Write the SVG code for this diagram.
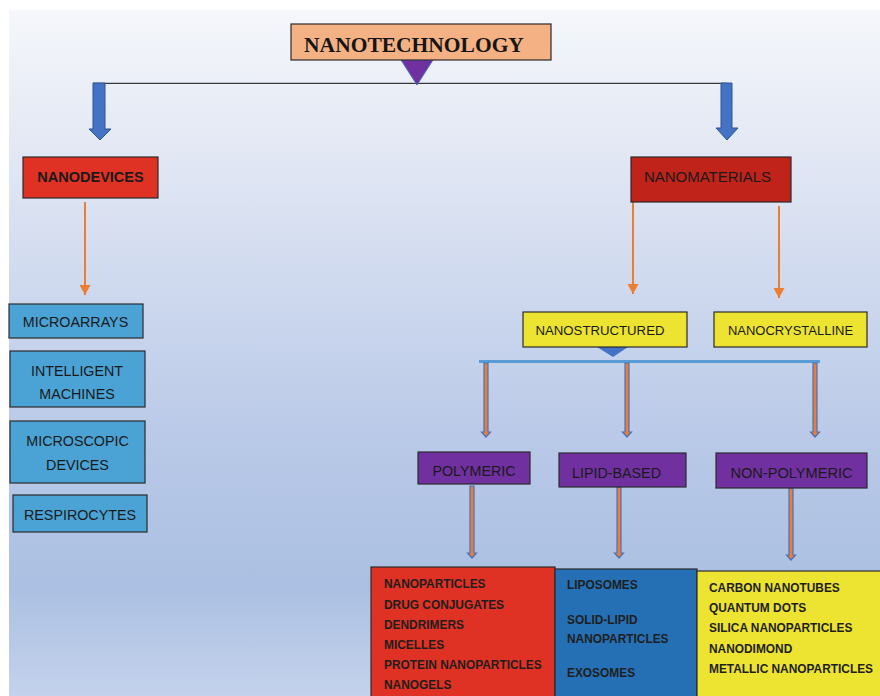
<svg xmlns="http://www.w3.org/2000/svg" width="880" height="696" viewBox="0 0 880 696">
<defs>
<linearGradient id="bg" x1="0" y1="10" x2="0" y2="696" gradientUnits="userSpaceOnUse">
<stop offset="0" stop-color="#f5f7fb"/>
<stop offset="0.2" stop-color="#e3e8f4"/>
<stop offset="0.42" stop-color="#cdd8ee"/>
<stop offset="0.64" stop-color="#b8c8e7"/>
<stop offset="0.84" stop-color="#abc0e2"/>
<stop offset="1" stop-color="#c4d2ec"/>
</linearGradient>
<marker id="oa" markerUnits="userSpaceOnUse" markerWidth="11" markerHeight="11" refX="10" refY="5.5" orient="auto">
<path d="M0,0 L10,5.5 L0,11 Z" fill="#ed7d31"/>
</marker>
<style>
.box{stroke:#2b2b2b;stroke-width:1.2}
.lbl{font-family:"Liberation Sans",Arial,sans-serif;fill:#1a1a1a;text-anchor:middle}
.lst{font-family:"Liberation Sans",Arial,sans-serif;font-weight:bold;font-size:11.9px;fill:#1e1e1e}
.bar{fill:#4472c4;stroke:#2f5597;stroke-width:1}
.oar{stroke:#ed7d31;stroke-width:2;fill:none}
.sar{fill:#ed7d31;stroke:#4472c4;stroke-width:1.2}
</style>
</defs>
<rect x="0" y="0" width="880" height="696" fill="#ffffff"/>
<rect x="9" y="10" width="871" height="686" fill="url(#bg)"/>

<g id="connectors">
<line x1="93" y1="83.3" x2="727" y2="83.3" stroke="#3a3a3a" stroke-width="1.3"/>
<polygon class="bar" points="93,83 105,83 105,129 111,129 100,140 89,129 93,129"/>
<polygon class="bar" points="721,83 732,83 732,128 738,128 727,140 716,128 721,128"/>
<polygon points="401,60 433,60 417,85" fill="#7030a0" stroke="#4472c4" stroke-width="1"/>
<line class="oar" x1="85" y1="202" x2="85" y2="295" marker-end="url(#oa)"/>
<line class="oar" x1="633" y1="202" x2="633" y2="294" marker-end="url(#oa)"/>
<line class="oar" x1="779" y1="206" x2="779" y2="298" marker-end="url(#oa)"/>
<polygon points="597,347 628,347 613,357" fill="#4472c4"/>
<line x1="479" y1="361.5" x2="820" y2="361.5" stroke="#5b9bd5" stroke-width="3"/>
<polygon class="sar" points="484,363 488,363 488,432 490.5,432 486,437 481.5,432 484,432"/>
<polygon class="sar" points="625,363 629,363 629,432 631.5,432 627,437 622.5,432 625,432"/>
<polygon class="sar" points="813,363 817,363 817,432 819.5,432 815,437 810.5,432 813,432"/>
<polygon class="sar" points="470,486 474,486 474,553 476.5,553 472,558 467.5,553 470,553"/>
<polygon class="sar" points="617,487 621,487 621,553 623.5,553 619,558 614.5,553 617,553"/>
<polygon class="sar" points="789,488 793,488 793,555 795.5,555 791,560 786.5,555 789,555"/>
</g>

<g id="nanotechnology">
<rect class="box" x="291" y="24" width="260" height="36" fill="#f4b183"/>
<text x="414" y="52" font-family="'Liberation Serif','Times New Roman',serif" font-weight="bold" font-size="21.5" fill="#151515" text-anchor="middle">NANOTECHNOLOGY</text>
</g>

<g id="nanodevices">
<rect class="box" x="23" y="157" width="135" height="41" fill="#e03224"/>
<text class="lbl" x="90.5" y="182" font-size="14.5" font-weight="bold">NANODEVICES</text>
</g>

<g id="nanomaterials">
<rect class="box" x="631" y="157" width="160" height="45" fill="#c0231a"/>
<text class="lbl" x="707.5" y="182" font-size="15">NANOMATERIALS</text>
</g>

<g id="microarrays">
<rect class="box" x="9" y="304" width="134" height="34" fill="#4ba3d5"/>
<text class="lbl" x="75.5" y="327" font-size="14.3">MICROARRAYS</text>
</g>

<g id="intelligent-machines">
<rect class="box" x="10" y="351" width="135" height="56" fill="#4ba3d5"/>
<text class="lbl" x="77" y="376" font-size="14.3">INTELLIGENT</text>
<text class="lbl" x="77" y="399" font-size="14.3">MACHINES</text>
</g>

<g id="microscopic-devices">
<rect class="box" x="10" y="421" width="135" height="62" fill="#4ba3d5"/>
<text class="lbl" x="77.5" y="446" font-size="14.3">MICROSCOPIC</text>
<text class="lbl" x="77.5" y="470" font-size="14.3">DEVICES</text>
</g>

<g id="respirocytes">
<rect class="box" x="13" y="495" width="134" height="37" fill="#4ba3d5"/>
<text class="lbl" x="80" y="520" font-size="14.3">RESPIROCYTES</text>
</g>

<g id="nanostructured">
<rect class="box" x="523" y="312" width="164" height="35" fill="#ede431"/>
<text class="lbl" x="600" y="335" font-size="13.2">NANOSTRUCTURED</text>
</g>

<g id="nanocrystalline">
<rect class="box" x="714" y="312" width="153" height="35" fill="#ede431"/>
<text class="lbl" x="790.5" y="335" font-size="13">NANOCRYSTALLINE</text>
</g>

<g id="polymeric">
<rect class="box" x="418" y="452" width="112" height="32" fill="#7030a0"/>
<text class="lbl" x="474" y="476" font-size="14.3">POLYMERIC</text>
</g>

<g id="lipid-based">
<rect class="box" x="559" y="453" width="127" height="34" fill="#7030a0"/>
<text class="lbl" x="616.5" y="478" font-size="14.3">LIPID-BASED</text>
</g>

<g id="non-polymeric">
<rect class="box" x="716" y="453" width="151" height="35" fill="#7030a0"/>
<text class="lbl" x="791.5" y="478" font-size="14.6">NON-POLYMERIC</text>
</g>

<g id="polymeric-list">
<rect class="box" x="371" y="567" width="184" height="131" fill="#e03224"/>
<text class="lst" x="384" y="588">NANOPARTICLES</text>
<text class="lst" x="384" y="609">DRUG CONJUGATES</text>
<text class="lst" x="384" y="629">DENDRIMERS</text>
<text class="lst" x="384" y="649">MICELLES</text>
<text class="lst" x="384" y="669">PROTEIN NANOPARTICLES</text>
<text class="lst" x="384" y="689">NANOGELS</text>
</g>

<g id="lipid-list">
<rect class="box" x="555" y="569" width="142" height="129" fill="#2570b5"/>
<text class="lst" x="567" y="589">LIPOSOMES</text>
<text class="lst" x="567" y="624">SOLID-LIPID</text>
<text class="lst" x="567" y="643">NANOPARTICLES</text>
<text class="lst" x="567" y="677">EXOSOMES</text>
</g>

<g id="non-polymeric-list">
<rect class="box" x="697" y="571" width="185" height="127" fill="#ede431"/>
<text class="lst" x="709" y="592">CARBON NANOTUBES</text>
<text class="lst" x="709" y="612">QUANTUM DOTS</text>
<text class="lst" x="709" y="632">SILICA NANOPARTICLES</text>
<text class="lst" x="709" y="653">NANODIMOND</text>
<text class="lst" x="709" y="673">METALLIC NANOPARTICLES</text>
</g>
</svg>
